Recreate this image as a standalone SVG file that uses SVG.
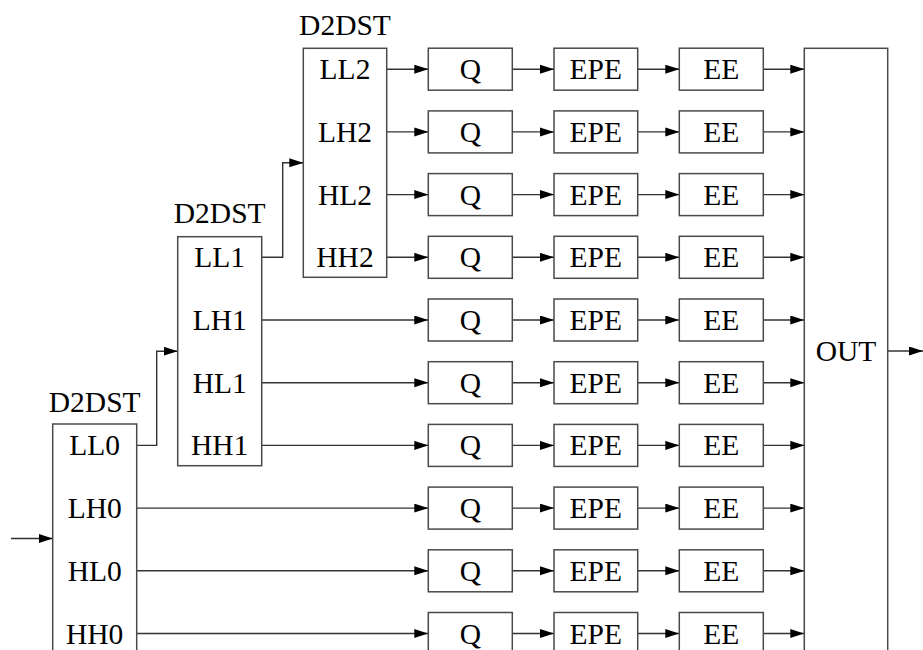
<svg xmlns="http://www.w3.org/2000/svg" width="923" height="650" viewBox="0 0 923 650">
<style>
.box{fill:#fff;stroke:#4a4a4a;stroke-width:1.5}
.t{font-family:"Liberation Serif","Times New Roman",serif;font-size:29.5px;fill:#000;text-anchor:middle}
.c{fill:none;stroke:#333;stroke-width:1.4}
.a{marker-end:url(#ah)}
</style>
<defs>
<marker id="ah" markerUnits="userSpaceOnUse" markerWidth="14" markerHeight="10" refX="14" refY="4.5" orient="auto">
<path d="M0,0 L14,4.5 L0,9 z" fill="#000"/>
</marker>
</defs>
<rect width="923" height="650" fill="#fff"/>

<g id="connectors">
<path class="c a" d="M11,538.5 H52.7"/>
<path class="c a" d="M136.7,445.4 H156.7 V351.2 H177.7"/>
<path class="c a" d="M261.7,257.3 H282.7 V162.8 H303.3"/>
<path class="c a" d="M386.7,69.2 H428.3"/>
<path class="c a" d="M386.7,131.9 H428.3"/>
<path class="c a" d="M386.7,194.6 H428.3"/>
<path class="c a" d="M386.7,257.3 H428.3"/>
<path class="c a" d="M261.7,320 H428.3"/>
<path class="c a" d="M261.7,382.7 H428.3"/>
<path class="c a" d="M261.7,445.4 H428.3"/>
<path class="c a" d="M136.7,508.1 H428.3"/>
<path class="c a" d="M136.7,570.8 H428.3"/>
<path class="c a" d="M136.7,633.5 H428.3"/>
<path class="c a" d="M512.3,69.2 H554"/>
<path class="c a" d="M512.3,131.9 H554"/>
<path class="c a" d="M512.3,194.6 H554"/>
<path class="c a" d="M512.3,257.3 H554"/>
<path class="c a" d="M512.3,320 H554"/>
<path class="c a" d="M512.3,382.7 H554"/>
<path class="c a" d="M512.3,445.4 H554"/>
<path class="c a" d="M512.3,508.1 H554"/>
<path class="c a" d="M512.3,570.8 H554"/>
<path class="c a" d="M512.3,633.5 H554"/>
<path class="c a" d="M637.7,69.2 H679.3"/>
<path class="c a" d="M637.7,131.9 H679.3"/>
<path class="c a" d="M637.7,194.6 H679.3"/>
<path class="c a" d="M637.7,257.3 H679.3"/>
<path class="c a" d="M637.7,320 H679.3"/>
<path class="c a" d="M637.7,382.7 H679.3"/>
<path class="c a" d="M637.7,445.4 H679.3"/>
<path class="c a" d="M637.7,508.1 H679.3"/>
<path class="c a" d="M637.7,570.8 H679.3"/>
<path class="c a" d="M637.7,633.5 H679.3"/>
<path class="c a" d="M763.3,69.2 H804.3"/>
<path class="c a" d="M763.3,131.9 H804.3"/>
<path class="c a" d="M763.3,194.6 H804.3"/>
<path class="c a" d="M763.3,257.3 H804.3"/>
<path class="c a" d="M763.3,320 H804.3"/>
<path class="c a" d="M763.3,382.7 H804.3"/>
<path class="c a" d="M763.3,445.4 H804.3"/>
<path class="c a" d="M763.3,508.1 H804.3"/>
<path class="c a" d="M763.3,570.8 H804.3"/>
<path class="c a" d="M763.3,633.5 H804.3"/>
<path class="c a" d="M887.7,351 H923"/>
</g>

<g id="d2dst2">
<text class="t" x="345" y="35">D2DST</text>
<rect class="box" x="303.3" y="48.3" width="83.4" height="229"/>
<text class="t" x="345" y="79.2">LL2</text>
<text class="t" x="345" y="141.9">LH2</text>
<text class="t" x="345" y="204.6">HL2</text>
<text class="t" x="345" y="267.3">HH2</text>
</g>

<g id="d2dst1">
<text class="t" x="219.7" y="223.3">D2DST</text>
<rect class="box" x="177.7" y="236.7" width="84" height="229"/>
<text class="t" x="219.7" y="267.3">LL1</text>
<text class="t" x="219.7" y="330">LH1</text>
<text class="t" x="219.7" y="392.7">HL1</text>
<text class="t" x="219.7" y="455.4">HH1</text>
</g>

<g id="d2dst0">
<text class="t" x="94.7" y="411.7">D2DST</text>
<rect class="box" x="52.7" y="424" width="84" height="229"/>
<text class="t" x="94.7" y="455.4">LL0</text>
<text class="t" x="94.7" y="518.1">LH0</text>
<text class="t" x="94.7" y="580.8">HL0</text>
<text class="t" x="94.7" y="643.5">HH0</text>
</g>

<g id="q">
<rect class="box" x="428.3" y="48.2" width="84" height="42"/>
<rect class="box" x="428.3" y="110.9" width="84" height="42"/>
<rect class="box" x="428.3" y="173.6" width="84" height="42"/>
<rect class="box" x="428.3" y="236.3" width="84" height="42"/>
<rect class="box" x="428.3" y="299" width="84" height="42"/>
<rect class="box" x="428.3" y="361.7" width="84" height="42"/>
<rect class="box" x="428.3" y="424.4" width="84" height="42"/>
<rect class="box" x="428.3" y="487.1" width="84" height="42"/>
<rect class="box" x="428.3" y="549.8" width="84" height="42"/>
<rect class="box" x="428.3" y="612.5" width="84" height="42"/>
<text class="t" x="470.3" y="79.2">Q</text>
<text class="t" x="470.3" y="141.9">Q</text>
<text class="t" x="470.3" y="204.6">Q</text>
<text class="t" x="470.3" y="267.3">Q</text>
<text class="t" x="470.3" y="330">Q</text>
<text class="t" x="470.3" y="392.7">Q</text>
<text class="t" x="470.3" y="455.4">Q</text>
<text class="t" x="470.3" y="518.1">Q</text>
<text class="t" x="470.3" y="580.8">Q</text>
<text class="t" x="470.3" y="643.5">Q</text>
</g>

<g id="epe">
<rect class="box" x="554" y="48.2" width="83.7" height="42"/>
<rect class="box" x="554" y="110.9" width="83.7" height="42"/>
<rect class="box" x="554" y="173.6" width="83.7" height="42"/>
<rect class="box" x="554" y="236.3" width="83.7" height="42"/>
<rect class="box" x="554" y="299" width="83.7" height="42"/>
<rect class="box" x="554" y="361.7" width="83.7" height="42"/>
<rect class="box" x="554" y="424.4" width="83.7" height="42"/>
<rect class="box" x="554" y="487.1" width="83.7" height="42"/>
<rect class="box" x="554" y="549.8" width="83.7" height="42"/>
<rect class="box" x="554" y="612.5" width="83.7" height="42"/>
<text class="t" x="595.8" y="79.2">EPE</text>
<text class="t" x="595.8" y="141.9">EPE</text>
<text class="t" x="595.8" y="204.6">EPE</text>
<text class="t" x="595.8" y="267.3">EPE</text>
<text class="t" x="595.8" y="330">EPE</text>
<text class="t" x="595.8" y="392.7">EPE</text>
<text class="t" x="595.8" y="455.4">EPE</text>
<text class="t" x="595.8" y="518.1">EPE</text>
<text class="t" x="595.8" y="580.8">EPE</text>
<text class="t" x="595.8" y="643.5">EPE</text>
</g>

<g id="ee">
<rect class="box" x="679.3" y="48.2" width="84" height="42"/>
<rect class="box" x="679.3" y="110.9" width="84" height="42"/>
<rect class="box" x="679.3" y="173.6" width="84" height="42"/>
<rect class="box" x="679.3" y="236.3" width="84" height="42"/>
<rect class="box" x="679.3" y="299" width="84" height="42"/>
<rect class="box" x="679.3" y="361.7" width="84" height="42"/>
<rect class="box" x="679.3" y="424.4" width="84" height="42"/>
<rect class="box" x="679.3" y="487.1" width="84" height="42"/>
<rect class="box" x="679.3" y="549.8" width="84" height="42"/>
<rect class="box" x="679.3" y="612.5" width="84" height="42"/>
<text class="t" x="721.3" y="79.2">EE</text>
<text class="t" x="721.3" y="141.9">EE</text>
<text class="t" x="721.3" y="204.6">EE</text>
<text class="t" x="721.3" y="267.3">EE</text>
<text class="t" x="721.3" y="330">EE</text>
<text class="t" x="721.3" y="392.7">EE</text>
<text class="t" x="721.3" y="455.4">EE</text>
<text class="t" x="721.3" y="518.1">EE</text>
<text class="t" x="721.3" y="580.8">EE</text>
<text class="t" x="721.3" y="643.5">EE</text>
</g>

<g id="out">
<rect class="box" x="804.3" y="48.3" width="83.4" height="606"/>
<text class="t" x="846" y="360.8">OUT</text>
</g>
</svg>
